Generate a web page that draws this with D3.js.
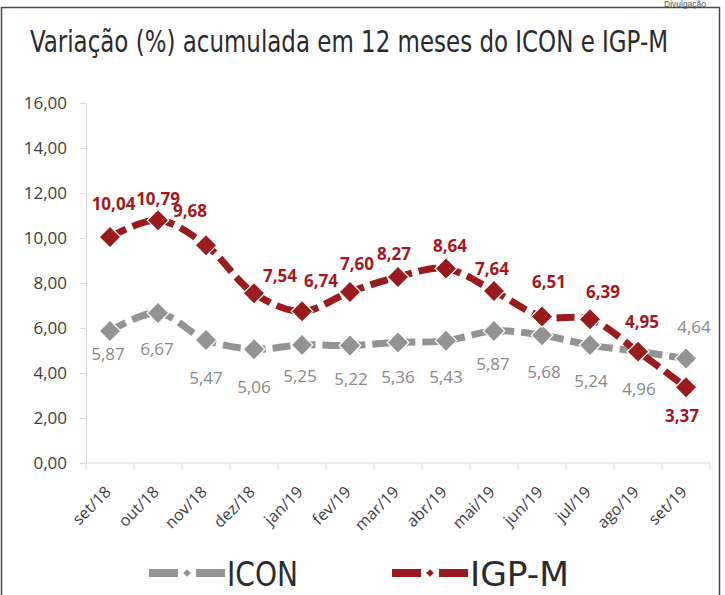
<!DOCTYPE html>
<html>
<head>
<meta charset="utf-8">
<script src="https://cdn.jsdelivr.net/npm/d3@7"></script>
<style>
  body { margin: 0; background: #fff; }
  svg { display: block; }
  .narrow { font-family: "DejaVu Sans", sans-serif; font-stretch: condensed; }
  .lbl { font-family: "Open Sans", sans-serif; }
</style>
</head>
<body>
<svg width="725" height="595"></svg>
<script>
// dados
const months = ["set/18", "out/18", "nov/18", "dez/18", "jan/19", "fev/19", "mar/19",
  "abr/19", "mai/19", "jun/19", "jul/19", "ago/19", "set/19"];
const icon = [5.87, 6.67, 5.47, 5.06, 5.25, 5.22, 5.36, 5.43, 5.87, 5.68, 5.24, 4.96, 4.64];
const igpm = [10.04, 10.79, 9.68, 7.54, 6.74, 7.60, 8.27, 8.64, 7.64, 6.51, 6.39, 4.95, 3.37];
const yTicks = [0, 2, 4, 6, 8, 10, 12, 14, 16];

// posição dos rótulos (deslocamento em px em relação ao ponto)
const iconLabelDx = [-2, -1, 0, 0, -2, 1, 0, 0, -1, 2, 1, 1, 8];
const iconLabelDy = [29, 42, 44, 44, 37, 39, 41, 42, 39, 43, 42, 44, -26];
const igpmLabelDx = [3.5, 0, -16, 26, 19, 7, -4, 4, -2, 7, 13, 4, -4];
const igpmLabelDy = [-27, -15, -28, -11, -24, -22, -17, -17, -16, -29, -21, -24, 35];

const grey = "#939393", greyText = "#8a8a8a";
const red = "#9a1b1e", redText = "#a3181c";

const svg = d3.select("svg");
const fmt = d3.formatLocale({ decimal: ",", thousands: ".", grouping: [3], currency: ["R$", ""] }).format(".2f");

const x = d3.scaleBand().domain(months).range([86, 710]);
const y = d3.scaleLinear().domain([0, 16]).range([463, 103]);
const cx = d => x(d) + x.bandwidth() / 2;

// moldura
svg.append("path")
  .attr("d", "M1.5,595 L1.5,7.5 L719.5,7.5 L719.5,595")
  .attr("fill", "none").attr("stroke", "#4a4a4a").attr("stroke-width", 1.5);

svg.append("text")
  .attr("x", 664).attr("y", 6.5)
  .attr("font-family", "Liberation Sans, Arial, sans-serif")
  .attr("font-size", 8.5).attr("fill", "#555")
  .text("Divulgação");

// título (fonte estreita simulada com textLength + escala vertical)
svg.append("g")
  .attr("transform", "translate(30,52) scale(1,1.1)")
  .append("text")
  .attr("class", "narrow")
  .attr("font-size", 27).attr("fill", "#2b2b2b")
  .attr("textLength", 638).attr("lengthAdjust", "spacingAndGlyphs")
  .text("Variação (%) acumulada em 12 meses do ICON e IGP-M");

// eixo y
const yAxis = svg.append("g")
  .attr("transform", "translate(86,0)")
  .call(d3.axisLeft(y).tickValues(yTicks).tickFormat(fmt).tickSize(6).tickPadding(13));
yAxis.select(".domain").attr("stroke", "#d9d9d9");
yAxis.selectAll(".tick line").attr("stroke", "#d9d9d9");
yAxis.selectAll(".tick text")
  .attr("class", "lbl").attr("font-size", 17).attr("fill", "#404040");

// eixo x
const xAxis = svg.append("g")
  .attr("transform", "translate(0,463)")
  .call(d3.axisBottom(x).tickSize(0).tickFormat(""));
xAxis.select(".domain").attr("stroke", "#d9d9d9").attr("d", "M86,0H710");
xAxis.selectAll(".tick").remove();
xAxis.selectAll(".sep")
  .data(d3.range(months.length + 1))
  .join("line")
  .attr("x1", i => 86 + i * x.bandwidth()).attr("x2", i => 86 + i * x.bandwidth())
  .attr("y1", 0).attr("y2", 6)
  .attr("stroke", "#d9d9d9");

svg.append("g").selectAll("text")
  .data(months)
  .join("text")
  .attr("class", "lbl")
  .attr("transform", d => `translate(${cx(d) + 2},493) rotate(-45)`)
  .attr("text-anchor", "end")
  .attr("font-size", 16).attr("fill", "#404040")
  .text(d => d);

// séries
const line = d3.line()
  .x((d, i) => cx(months[i]))
  .y(d => y(d))
  .curve(d3.curveCatmullRom.alpha(0.5));

const diamond = d3.symbol(d3.symbolSquare, 235);

function drawSeries(values, color, textColor, dxs, dys, bold) {
  const g = svg.append("g");
  g.append("path")
    .datum(values)
    .attr("d", line)
    .attr("fill", "none")
    .attr("stroke", color)
    .attr("stroke-width", 7)
    .attr("stroke-dasharray", "18,7");
  g.selectAll(".pt")
    .data(values)
    .join("path")
    .attr("transform", (d, i) => `translate(${cx(months[i])},${y(d)}) rotate(45)`)
    .attr("d", diamond)
    .attr("fill", color)
    .attr("stroke", "#fff")
    .attr("stroke-width", 1.2);
  g.selectAll(".val")
    .data(values)
    .join("text")
    .attr("class", "lbl")
    .attr("x", (d, i) => cx(months[i]) + dxs[i])
    .attr("y", (d, i) => y(d) + dys[i])
    .attr("text-anchor", "middle")
    .attr("font-size", 17)
    .attr("font-weight", bold ? 700 : 400)
    .attr("fill", textColor)
    .text(d => fmt(d));
}

drawSeries(icon, grey, greyText, iconLabelDx, iconLabelDy, false);
drawSeries(igpm, red, redText, igpmLabelDx, igpmLabelDy, true);

// legenda
const legend = [
  { name: "ICON", color: grey, x0: 149, w: 71 },
  { name: "IGP-M", color: red, x0: 392, w: 99 }
];
legend.forEach(l => {
  const g = svg.append("g");
  g.append("line")
    .attr("x1", l.x0).attr("x2", l.x0 + 29).attr("y1", 573).attr("y2", 573)
    .attr("stroke", l.color).attr("stroke-width", 8);
  g.append("line")
    .attr("x1", l.x0 + 47).attr("x2", l.x0 + 76).attr("y1", 573).attr("y2", 573)
    .attr("stroke", l.color).attr("stroke-width", 8);
  g.append("path")
    .attr("transform", `translate(${l.x0 + 38},573) rotate(45)`)
    .attr("d", d3.symbol(d3.symbolSquare, 30))
    .attr("fill", l.color);
  g.append("text")
    .attr("class", "narrow")
    .attr("x", l.x0 + 78).attr("y", 586)
    .attr("font-size", 34).attr("fill", "#2b2b2b")
    .attr("textLength", l.w).attr("lengthAdjust", "spacingAndGlyphs")
    .text(l.name);
});
</script>
</body>
</html>
